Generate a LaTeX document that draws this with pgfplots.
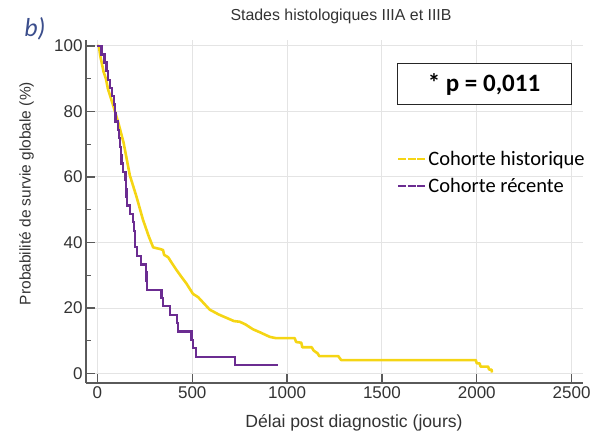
\documentclass[border=0pt]{standalone}
\usepackage{pgfplots}
\pgfplotsset{compat=1.18}
\usepackage{fontspec}
\setmainfont{Liberation Sans}
\newfontfamily\carlito{Carlito}
\definecolor{cyel}{HTML}{F5D514}
\definecolor{cpur}{HTML}{6B2C91}
\definecolor{caxis}{HTML}{5A5A5A}
\definecolor{cgrid}{HTML}{E4E4E4}
\definecolor{cblue}{HTML}{3B4E8C}
\begin{document}
\begin{tikzpicture}[x=1pt,y=1pt]
\path[use as bounding box] (0,0) rectangle (602,438);
\begin{axis}[
  at={(86pt,55pt)}, anchor=south west,
  scale only axis, width=497pt, height=343pt,
  xmin=-60, xmax=2560, ymin=-2.9, ymax=101.8,
  axis x line*=bottom, axis y line*=left,
  axis line style={draw=caxis, line width=1.8pt},
  xtick={0,500,1000,1500,2000,2500},
  ytick={0,20,40,60,80,100},
  minor y tick num=1,
  tick align=inside,
  major tick length=9pt, minor tick length=5pt,
  every tick/.style={draw=caxis, line width=1.3pt},
  grid=major,
  major grid style={draw=cgrid, line width=0.9pt},
  ticklabel style={font=\fontsize{17}{19}\selectfont, text=black!80},
  /pgf/number format/assume math mode=true,
  /pgf/number format/1000 sep={},
  clip=false,
  legend style={draw=none, fill=none, at={(0.625,0.682)}, anchor=north west,
    font=\carlito\fontsize{20.5}{22}\selectfont, row sep=7pt,
    cells={anchor=west}, inner sep=0pt},
  legend image code/.code={\draw[#1, dash pattern=on 8pt off 1.5pt, line width=2.6pt] (0pt,0pt) -- (27pt,0pt);},
]
\addplot[cyel, line width=2.6pt, line join=round] table {
x y
0 100
8 100
15 97
33 92
45 90
55 87
85 81.5
111 76.4
138 70.5
171 60.5
206 54
240 47
270 42
294 38.5
330 38
346 37.7
352 36.2
373 35.5
395 33.5
417 31.6
443 29.5
469 27.5
504 24.3
531 23.3
560 21.5
592 19.5
640 18
680 17
720 16
750 15.8
780 15
820 13.5
860 12.5
908 11.2
940 10.8
1040 10.8
1048 9.6
1075 9.4
1080 8
1130 8
1140 7
1160 6.2
1170 5.3
1270 5.3
1285 4.1
1995 4.1
2000 3.1
2015 3.1
2020 2.1
2060 2.1
2065 1.2
2078 1.2
2080 0.3
};
\addlegendentry{Cohorte historique}
\addplot[const plot, cpur, line width=2.2pt] table {
x y
0 100
22 97.4
38 94.9
48 92.3
57 89.7
66 87.2
76 84.6
86 82.1
92 79.5
96 76.9
110 74.4
116 71.8
120 69.2
124 66.7
127 64.1
135 61.5
148 59.0
152 56.4
154 53.8
158 51.3
171 48.7
188 46.2
194 43.6
197 41.0
200 38.5
210 35.9
232 33.3
257 30.8
259 28.2
262 25.6
338 23.1
346 20.5
382 17.9
420 15.4
424 12.8
496 10.3
505 7.7
518 5.1
724 2.6
952 2.6
};
\addlegendentry{Cohorte récente}
\end{axis}
\node[font=\fontsize{15.9}{17}\selectfont, text=black!80] at (341,422) {Stades histologiques IIIA et IIIB};
\node[font=\fontsize{17.6}{19}\selectfont, text=black!80] at (354,15) {Délai post diagnostic (jours)};
\node[font=\fontsize{15.5}{17}\selectfont, text=black!80, rotate=90] at (26.5,244.5) {Probabilité de survie globale (\%)};
\node[font=\carlito\itshape\fontsize{26}{28}\selectfont, text=cblue] at (35,409) {b)};
\node[draw=black!85, line width=1pt, fill=white, minimum width=174pt, minimum height=41pt, inner sep=0pt,
  font=\carlito\bfseries\fontsize{25}{27}\selectfont] at (484,353.5) {* p = 0,011};
\end{tikzpicture}
\end{document}
